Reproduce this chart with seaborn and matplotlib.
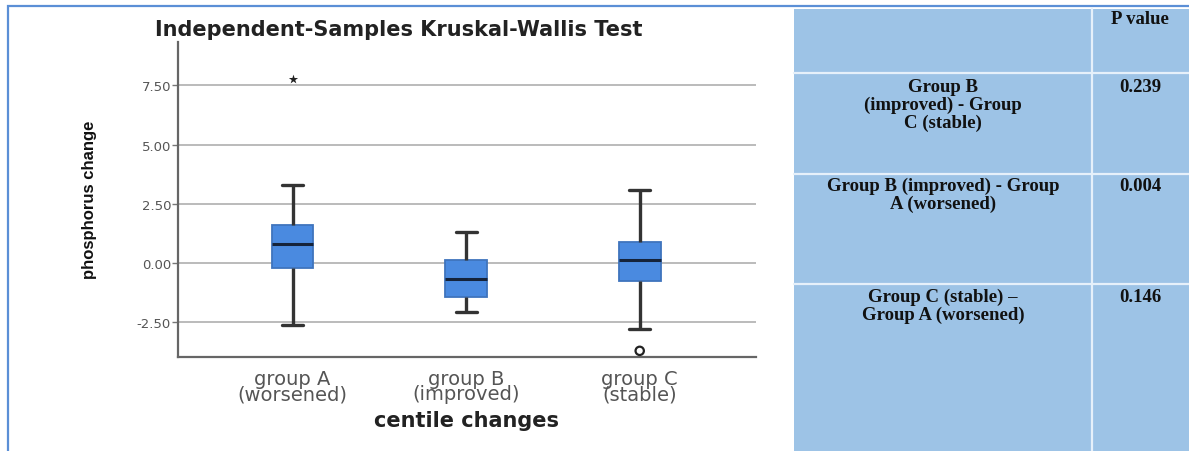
import numpy as np
import pandas as pd
import matplotlib
matplotlib.use('Agg')
import matplotlib.pyplot as plt
from matplotlib.patches import Rectangle
import seaborn as sns

# значения (9 точек на группу -> квартили попадают точно)
groups = ['group A\n(worsened)', 'group B\n(improved)', 'group C\n(stable)']
group_a = [-2.60, -1.00, -0.20, 0.40, 0.80, 1.20, 1.60, 3.30, 7.75]
group_b = [-2.07, -1.80, -1.43, -1.00, -0.68, -0.30, 0.13, 0.80, 1.31]
group_c = [-3.71, -2.78, -0.76, -0.30, 0.13, 0.50, 0.89, 2.00, 3.08]

# выбросы: экстремальные (*) и обычные (o)
extreme_group = ['group A\n(worsened)']
extreme_value = [7.75]
outlier_group = ['group C\n(stable)']
outlier_value = [-3.71]

y_ticks = [-2.5, 0.0, 2.5, 5.0, 7.5]

# таблица p-value
comparisons = ['Group B\n(improved) - Group\nC (stable)',
               'Group B (improved) - Group\nA (worsened)',
               'Group C (stable) \u2013\nGroup A (worsened)']
p_values = ['0.239', '0.004', '0.146']

df = pd.DataFrame({
    'centile changes': [groups[0]] * len(group_a) + [groups[1]] * len(group_b) + [groups[2]] * len(group_c),
    'phosphorus change': group_a + group_b + group_c,
})

sns.set_style('white')
W, H = 1189, 452
fig = plt.figure(figsize=(W / 100, H / 100), dpi=100)

def fx(px):
    return px / W

def fy(py):
    return 1 - py / H

ax = fig.add_axes([fx(178), fy(358), fx(756) - fx(178), fy(43) - fy(358)])

sns.boxplot(data=df, x='centile changes', y='phosphorus change', order=groups,
            ax=ax, width=0.24, whis=1.5, showfliers=False,
            color='#4a8ae0', saturation=1, linewidth=1.3,
            boxprops=dict(facecolor='#4a8ae0', edgecolor='#3f74bd'),
            medianprops=dict(color='#15233a', linewidth=2.2),
            whiskerprops=dict(color='#333333', linewidth=2.4),
            capprops=dict(color='#333333', linewidth=2.4),
            capwidths=0.12, zorder=3)

sns.stripplot(x=extreme_group, y=extreme_value, order=groups, ax=ax, jitter=False,
              marker='*', color='#222222', size=7, zorder=4)
sns.stripplot(x=outlier_group, y=outlier_value, order=groups, ax=ax, jitter=False,
              marker='o', facecolor='none', edgecolor='#222222', linewidth=1.6,
              color='none', size=6, zorder=4)

ax.set_xlim(-0.66, 2.67)
ax.set_ylim(-3.97, 9.33)
ax.set_yticks(y_ticks)
ax.set_yticklabels([f'{v:.2f}' for v in y_ticks], fontsize=9.5, color='#555555')
ax.tick_params(axis='y', left=True, length=4, width=1, color='#777777', pad=1)
ax.tick_params(axis='x', bottom=False, labelsize=14, labelcolor='#555555', pad=5)
for lab in ax.get_xticklabels():
    lab.set_linespacing(0.75)
ax.yaxis.grid(True, color='#b5b5b5', linewidth=1.3)
ax.set_axisbelow(True)
sns.despine(ax=ax)
ax.spines['left'].set_color('#666666')
ax.spines['bottom'].set_color('#666666')
ax.spines['left'].set_linewidth(1.6)
ax.spines['bottom'].set_linewidth(1.6)
ax.set_xlabel('')
ax.set_ylabel('')

fig.text(fx(155), fy(30), 'Independent-Samples Kruskal-Wallis Test', fontsize=15,
         fontweight='bold', color='#222222', ha='left', va='center')
fig.text(fx(90), fy(200), 'phosphorus change', rotation=90, fontsize=12,
         fontweight='bold', family='Liberation Sans', color='#111111', ha='center', va='center')
fig.text(fx(466), fy(421), 'centile changes', fontsize=15, fontweight='bold',
         color='#222222', ha='center', va='center')

# правая часть - таблица
blue = '#9dc3e6'
fig.patches.append(Rectangle((fx(794), 0), 1 - fx(794), fy(10), transform=fig.transFigure,
                             facecolor=blue, edgecolor='none', zorder=0))
for yy in [74, 175, 285]:
    fig.lines.append(plt.Line2D([fx(794), 1], [fy(yy), fy(yy)], transform=fig.transFigure,
                                color='#e6f0fa', linewidth=1.6))
fig.lines.append(plt.Line2D([fx(1092), fx(1092)], [0, fy(10)], transform=fig.transFigure,
                            color='#e6f0fa', linewidth=1.6))

tfont = dict(fontsize=13.5, fontweight='bold', family='Liberation Serif', color='#111111')
fig.text(fx(1140), fy(19), 'P value', ha='center', va='center', **tfont)
row_tops = [79, 178, 289]
for top, comp, p in zip(row_tops, comparisons, p_values):
    fig.text(fx(943), fy(top), comp, ha='center', va='top', linespacing=1.05, **tfont)
    fig.text(fx(1140), fy(top), p, ha='center', va='top', **tfont)

# рамка
fig.patches.append(Rectangle((fx(8), -0.01), 1.02 - fx(8), fy(7) + 0.01, transform=fig.transFigure,
                             facecolor='none', edgecolor='#5b8fd6', linewidth=1.6, zorder=5))

fig.savefig('out.png', dpi=100)
